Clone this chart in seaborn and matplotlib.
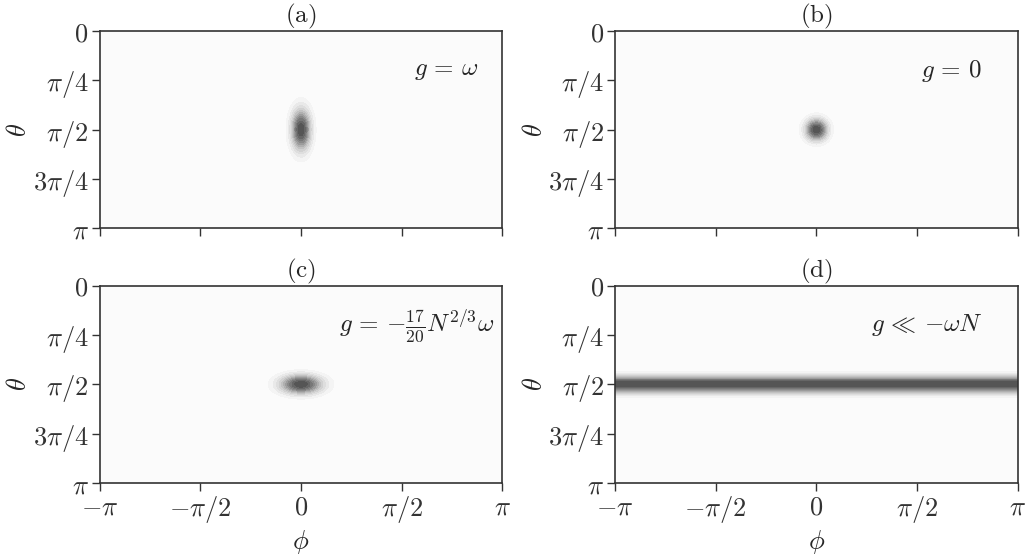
import numpy as np
import matplotlib
matplotlib.use("Agg")
import matplotlib.pyplot as plt
import seaborn as sns

# panel data: centre and widths of each distribution
panels = ["(a)", "(b)", "(c)", "(d)"]
phi0 = [0.0, 0.0, 0.0, 0.0]
theta0 = [np.pi / 2, np.pi / 2, np.pi / 2, np.pi / 2]
sigma_phi = [0.105, 0.12, 0.23, np.inf]
sigma_theta = [0.23, 0.12, 0.105, 0.095]
labels = [r"$g\,=\,\omega$", r"$g\,=\,0$", r"$g\,=\,{-}\frac{17}{20}N^{2/3}\omega$", r"$g\,\ll\,{-}\omega N$"]
label_x = [0.94, 0.91, 0.98, 0.915]

xticks = [-np.pi, -np.pi / 2, 0, np.pi / 2, np.pi]
xticklabels = [r"$-\pi$", r"$-\pi/2$", r"$0$", r"$\pi/2$", r"$\pi$"]
yticks = [0, np.pi / 4, np.pi / 2, 3 * np.pi / 4, np.pi]
yticklabels = [r"$0$", r"$\pi/4$", r"$\pi/2$", r"$3\pi/4$", r"$\pi$"]

sns.set_theme(style="ticks")
plt.rcParams["mathtext.fontset"] = "cm"
plt.rcParams["font.family"] = ["DejaVu Serif"]
plt.rcParams["axes.edgecolor"] = "0.2"
plt.rcParams["xtick.color"] = "0.2"
plt.rcParams["ytick.color"] = "0.2"

cmap = sns.color_palette("Greys", as_cmap=True)

phi = np.linspace(-np.pi, np.pi, 600)
theta = np.linspace(0, np.pi, 400)
P, T = np.meshgrid(phi, theta)

fig, axes = plt.subplots(2, 2, figsize=(10.28, 5.54), dpi=100, sharex=True)
for i, ax in enumerate(axes.flat):
    Z = np.exp(-(P - phi0[i]) ** 2 / (2 * sigma_phi[i] ** 2)
               - (T - theta0[i]) ** 2 / (2 * sigma_theta[i] ** 2))
    ax.contourf(P, T, Z, levels=np.linspace(0, 1.0001, 13), cmap=cmap, vmin=0, vmax=1.3)
    ax.set_xlim(-np.pi, np.pi)
    ax.set_ylim(np.pi, 0)
    ax.set_xticks(xticks)
    ax.set_xticklabels(xticklabels, fontsize=19)
    ax.set_yticks(yticks)
    ax.set_yticklabels(yticklabels, fontsize=19)
    ax.tick_params(length=6, width=1, pad=2)
    ax.set_title(r"$\mathrm{" + panels[i] + "}$", fontsize=18, pad=1)
    ax.set_ylabel(r"$\theta$", fontsize=19, labelpad=1)
    ax.text(label_x[i], 0.8, labels[i], transform=ax.transAxes,
            ha="right", va="center", fontsize=18)
    for s in ax.spines.values():
        s.set_linewidth(1.2)
    if i >= 2:
        ax.set_xlabel(r"$\phi$", fontsize=19, labelpad=2)

plt.subplots_adjust(left=0.097, right=0.99, top=0.944, bottom=0.128, wspace=0.28, hspace=0.29)
plt.savefig("out.png", dpi=100)
